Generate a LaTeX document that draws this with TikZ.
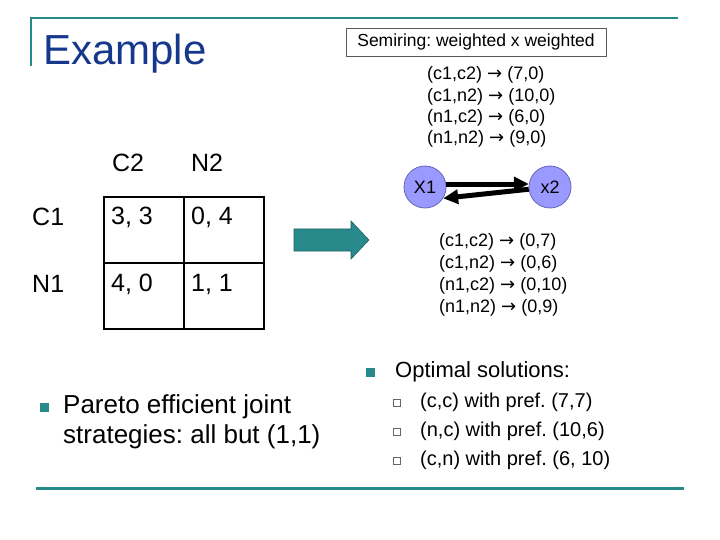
\documentclass[tikz,border=0pt]{standalone}
\usepackage{fontspec}
\setmainfont{Liberation Sans}
\newfontfamily\dvfont{DejaVu Sans}
\newcommand{\arr}{{\dvfont →}}
\frenchspacing
\usetikzlibrary{arrows.meta}
\definecolor{teal1}{RGB}{40,138,138}
\definecolor{titleblue}{RGB}{22,56,140}
\definecolor{circfill}{RGB}{153,153,255}
\definecolor{circline}{RGB}{100,100,190}
\tikzset{
  txt/.style={inner sep=0pt, anchor=west, font=\fontsize{#1}{#1}\selectfont},
  circ/.style={circle, minimum size=42pt, inner sep=0pt, fill=circfill, draw=circline, line width=0.8pt, font=\fontsize{18}{18}\selectfont},
  bigarr/.style={line width=5pt, -{Triangle[length=15pt,width=14pt]}},
  rule/.style={teal1, line width=2.5pt},
  grid/.style={line width=1.8pt},
  bul/.style={fill=teal1, minimum size=9pt, inner sep=0pt},
  subbul/.style={draw=gray!80!black, fill=white, minimum size=7pt, inner sep=0pt, line width=0.7pt}
}
\begin{document}
\begin{tikzpicture}[x=1pt,y=-1pt]
\useasboundingbox (0,0) rectangle (720,540);
% header rules
\draw[rule] (31,66) -- (31,18) -- (678,18);
\draw[rule, line width=3pt] (36,488) -- (684,488);
% title
\node[txt=42, text=titleblue, anchor=base west] (title) at (43,65) {Example};
% semiring box
\node[draw=gray!70!black, line width=0.8pt, minimum width=260pt, minimum height=28pt, inner sep=0pt, font=\fontsize{17.5}{17.5}\selectfont] (semi) at (476,42) {Semiring: weighted x weighted};
% top list
\node[txt=18] (t1) at (427,75) {(c1,c2) \arr\ (7,0)};
\node[txt=18] (t2) at (427,97) {(c1,n2) \arr\ (10,0)};
\node[txt=18] (t3) at (427,118) {(n1,c2) \arr\ (6,0)};
\node[txt=18] (t4) at (427,139) {(n1,n2) \arr\ (9,0)};
% graph
\node[circ] (X1) at (425,187) {X1};
\node[circ] (x2) at (550,187) {x2};
\draw[bigarr] (X1.8) -- (x2.172);
\draw[bigarr] (x2.186) -- (X1.-32);
% bottom list
\node[txt=18] (b1) at (439,242) {(c1,c2) \arr\ (0,7)};
\node[txt=18] (b2) at (439,264) {(c1,n2) \arr\ (0,6)};
\node[txt=18] (b3) at (439,286) {(n1,c2) \arr\ (0,10)};
\node[txt=18] (b4) at (439,308) {(n1,n2) \arr\ (0,9)};
% block arrow
\draw[fill=teal1, draw=teal1!70!black, line width=0.6pt] (294,229) -- (351,229) -- (351,221) -- (369,240) -- (351,259) -- (351,251) -- (294,251) -- cycle;
% table
\draw[grid] (104,197) rectangle (264,329);
\draw[grid] (184,197) -- (184,329);
\draw[grid] (104,263) -- (264,263);
\node[txt=25, anchor=center] (hc2) at (128,163) {C2};
\node[txt=25, anchor=center] (hn2) at (207,163) {N2};
\node[txt=25] (rc1) at (32,217) {C1};
\node[txt=25] (rn1) at (32,284) {N1};
\node[txt=25] (c11) at (111,217) {3, 3};
\node[txt=25] (c12) at (191,217) {0, 4};
\node[txt=25] (c21) at (111,284) {4, 0};
\node[txt=25] (c22) at (191,284) {1, 1};
% left bullet
\node[bul] (lb) at (44.5,407.5) {};
\node[txt=26] (p1) at (63,407) {Pareto efficient joint};
\node[txt=26] (p2) at (63,437) {strategies: all but (1,1)};
% right bullets
\node[bul] (rb) at (370.5,372) {};
\node[txt=22] (o1) at (395,372) {Optimal solutions:};
\node[subbul] (s1) at (397,403) {};
\node[subbul] (s2) at (397,432) {};
\node[subbul] (s3) at (397,461) {};
\node[txt=20] (q1) at (420,402) {(c,c) with pref. (7,7)};
\node[txt=20] (q2) at (420,431) {(n,c) with pref. (10,6)};
\node[txt=20] (q3) at (420,460) {(c,n) with pref. (6, 10)};
\end{tikzpicture}
\end{document}
